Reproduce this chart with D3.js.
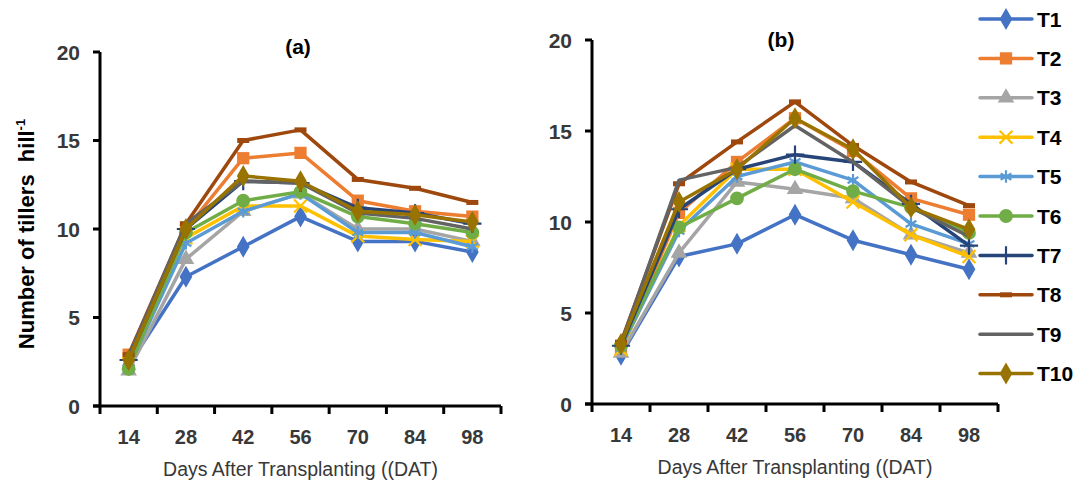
<!DOCTYPE html>
<html>
<head>
<meta charset="utf-8">
<script src="https://cdn.jsdelivr.net/npm/d3@7"></script>
<style>
  body { margin: 0; background: #fff; }
  text { font-family: "Liberation Sans", Arial, sans-serif; }
</style>
</head>
<body>
<div id="chart-area"></div>
<script>
'use strict';

let days = ['14', '28', '42', '56', '70', '84', '98'];
let treatments = ['T1', 'T2', 'T3', 'T4', 'T5', 'T6', 'T7', 'T8', 'T9', 'T10'];
let yTicks = [0, 5, 10, 15, 20];

// panel (a)
let tillersA = [
    [2.3, 7.3, 9.0, 10.7, 9.3, 9.3, 8.7],
    [2.9, 10.0, 14.0, 14.3, 11.6, 11.0, 10.7],
    [2.0, 8.3, 11.0, 12.0, 10.0, 10.0, 9.3],
    [2.4, 9.5, 11.3, 11.3, 9.6, 9.4, 9.3],
    [2.2, 9.2, 11.0, 12.0, 9.8, 9.8, 9.0],
    [2.1, 9.8, 11.6, 12.1, 10.7, 10.3, 9.8],
    [2.6, 10.0, 12.7, 12.6, 11.2, 10.9, 10.3],
    [2.9, 10.3, 15.0, 15.6, 12.8, 12.3, 11.5],
    [2.8, 10.3, 12.7, 12.6, 10.9, 10.6, 10.0],
    [2.6, 10.0, 13.0, 12.7, 11.0, 10.8, 10.4]
];

// panel (b)
let tillersB = [
    [2.7, 8.1, 8.8, 10.4, 9.0, 8.2, 7.4],
    [3.0, 10.5, 13.3, 15.7, 13.9, 11.3, 10.4],
    [2.8, 8.3, 12.2, 11.8, 11.3, 9.3, 8.3],
    [3.0, 9.8, 12.9, 12.9, 11.1, 9.3, 8.1],
    [3.1, 9.5, 12.5, 13.3, 12.3, 9.9, 8.8],
    [3.2, 9.7, 11.3, 12.9, 11.7, 10.8, 9.4],
    [3.2, 10.7, 12.9, 13.7, 13.3, 11.0, 8.7],
    [3.4, 12.1, 14.4, 16.6, 14.2, 12.2, 10.9],
    [3.3, 12.3, 13.0, 15.3, 13.3, 10.8, 9.2],
    [3.3, 11.1, 12.9, 15.7, 14.0, 10.8, 9.6]
];

let colours = ['#4472C4', '#ED7D31', '#A5A5A5', '#FFC000', '#5B9BD5',
               '#70AD47', '#264478', '#9E480E', '#636363', '#997300'];
let markers = ['diamond', 'square', 'triangle', 'times', 'asterisk',
               'circle', 'plus', 'dash', 'none', 'diamond'];

let svg = d3.select('#chart-area').append('svg')
    .attr('width', 1082)
    .attr('height', 494);

function drawMarker(g, kind, colour, cx, cy) {
    if (kind === 'none') return;
    if (kind === 'dash') {
        g.append('line')
            .attr('x1', cx - 6).attr('x2', cx + 6)
            .attr('y1', cy).attr('y2', cy)
            .attr('stroke', colour).attr('stroke-width', 5);
        return;
    }
    let stroked = { times: d3.symbolTimes, asterisk: d3.symbolAsterisk, plus: d3.symbolPlus };
    if (stroked[kind]) {
        g.append('path')
            .attr('d', d3.symbol().type(stroked[kind]).size(110)())
            .attr('transform', `translate(${cx},${cy})`)
            .attr('fill', 'none')
            .attr('stroke', colour)
            .attr('stroke-width', 2.2);
        return;
    }
    let filled = { diamond: d3.symbolDiamond, square: d3.symbolSquare,
                   triangle: d3.symbolTriangle, circle: d3.symbolCircle };
    let sizes = { diamond: 140, square: 150, triangle: 120, circle: 150 };
    g.append('path')
        .attr('d', d3.symbol().type(filled[kind]).size(sizes[kind])())
        .attr('transform', `translate(${cx},${cy})`)
        .attr('fill', colour);
}

function drawPanel(data, left, right, top, bottom, title, titleX, titleY) {
    let g = svg.append('g');

    let x = d3.scaleBand()
        .domain(days)
        .range([left, right]);

    let y = d3.scaleLinear()
        .domain([0, 20])
        .range([bottom, top]);

    // lines and markers
    data.forEach((vals, i) => {
        let line = d3.line()
            .x((v, j) => x(days[j]) + x.bandwidth() / 2)
            .y((v) => y(v));
        g.append('path')
            .datum(vals)
            .attr('d', line)
            .attr('fill', 'none')
            .attr('stroke', colours[i])
            .attr('stroke-width', 3.5)
            .attr('stroke-linejoin', 'round');
        vals.forEach((v, j) => {
            drawMarker(g, markers[i], colours[i], x(days[j]) + x.bandwidth() / 2, y(v));
        });
    });

    // y axis
    g.append('line')
        .attr('x1', left).attr('x2', left)
        .attr('y1', y(20)).attr('y2', y(0))
        .attr('stroke', '#000').attr('stroke-width', 3);
    yTicks.forEach((t) => {
        g.append('line')
            .attr('x1', left - 7).attr('x2', left)
            .attr('y1', y(t)).attr('y2', y(t))
            .attr('stroke', '#000').attr('stroke-width', 3);
        g.append('text')
            .attr('x', left - 20)
            .attr('y', y(t))
            .attr('dy', '0.36em')
            .attr('text-anchor', 'end')
            .attr('font-size', 21)
            .attr('font-weight', 'bold')
            .attr('fill', '#383838')
            .text(t);
    });

    // x axis
    g.append('line')
        .attr('x1', left - 7).attr('x2', right)
        .attr('y1', bottom).attr('y2', bottom)
        .attr('stroke', '#000').attr('stroke-width', 3);
    days.forEach((d, j) => {
        let edges = j === 0 ? [x(d), x(d) + x.bandwidth()] : [x(d) + x.bandwidth()];
        edges.forEach((ex) => {
            g.append('line')
                .attr('x1', ex).attr('x2', ex)
                .attr('y1', bottom).attr('y2', bottom + 8)
                .attr('stroke', '#000').attr('stroke-width', 3);
        });
        g.append('text')
            .attr('x', x(d) + x.bandwidth() / 2)
            .attr('y', bottom + 38)
            .attr('text-anchor', 'middle')
            .attr('font-size', 20)
            .attr('font-weight', 'bold')
            .attr('fill', '#383838')
            .text(d);
    });

    g.append('text')
        .attr('x', (left + right) / 2)
        .attr('y', bottom + 70)
        .attr('text-anchor', 'middle')
        .attr('font-size', 19.5)
        .attr('fill', '#383838')
        .text('Days After Transplanting ((DAT)');

    g.append('text')
        .attr('x', titleX)
        .attr('y', titleY)
        .attr('text-anchor', 'middle')
        .attr('font-size', 21)
        .attr('font-weight', 'bold')
        .attr('fill', '#000')
        .text(title);
}

drawPanel(tillersA, 100, 501, 52, 406, '(a)', 298, 54);
drawPanel(tillersB, 592, 998, 40, 404, '(b)', 781, 47);

// y axis title
let yTitle = svg.append('text')
    .attr('transform', 'translate(34,234) rotate(-90)')
    .attr('text-anchor', 'middle')
    .attr('font-size', 22)
    .attr('font-weight', 'bold')
    .attr('fill', '#000')
    .style('white-space', 'pre');
yTitle.append('tspan').text('Number of tillers  hill');
yTitle.append('tspan')
    .attr('font-size', 13)
    .attr('dy', -9)
    .text('-1');

// legend
let legend = svg.append('g');
treatments.forEach((name, i) => {
    let ly = 19 + i * 39.4;
    legend.append('line')
        .attr('x1', 980).attr('x2', 1032)
        .attr('y1', ly).attr('y2', ly)
        .attr('stroke', colours[i])
        .attr('stroke-width', 3.5)
        .attr('stroke-linecap', 'round');
    drawMarker(legend, markers[i], colours[i], 1006, ly);
    legend.append('text')
        .attr('x', 1037)
        .attr('y', ly)
        .attr('dy', '0.36em')
        .attr('font-size', 21)
        .attr('font-weight', 'bold')
        .attr('fill', '#000')
        .text(name);
});
</script>
</body>
</html>
